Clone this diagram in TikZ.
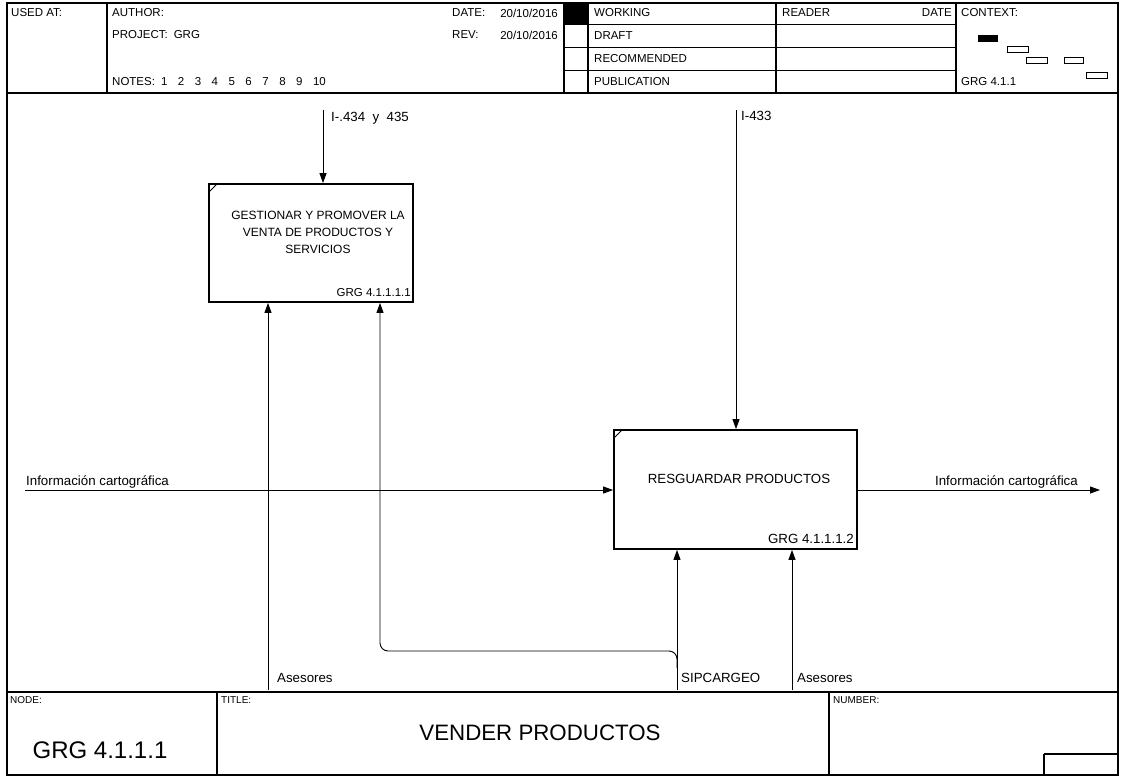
\documentclass[tikz,border=0pt]{standalone}
\usepackage{fontspec}
\setmainfont{Liberation Sans}
\usetikzlibrary{arrows.meta}
\newcommand\ngap{\hspace{10.5pt}}
\begin{document}
\begin{tikzpicture}[x=1pt,y=-1pt,
  txt/.style={inner sep=0pt, font=\fontsize{11.5}{13}\selectfont},
  lbl/.style={inner sep=0pt, font=\fontsize{13.3}{15}\selectfont},
  small/.style={inner sep=0pt, font=\fontsize{10}{12}\selectfont},
  frame/.style={line width=1.3pt},
  thin/.style={line width=0.8pt},
  proc/.style={draw, line width=1.8pt, inner sep=0pt},
  arr/.style={line width=0.9pt, -{Triangle[length=10pt,width=7pt]}},
  ln/.style={line width=0.9pt}]
\useasboundingbox (0,0) rectangle (1124,776);
% outer frame
\draw[frame] (7,3) rectangle (1118,775);
% header
\draw[frame] (7,93) -- (1118,93);
\draw[frame] (107,3) -- (107,93);
\draw[frame] (564,3) -- (564,93);
\fill (564,3) rectangle (588,24);
\draw[frame] (588,3) -- (588,93);
\draw[frame] (776,3) -- (776,93);
\draw[frame] (956,3) -- (956,93);
\foreach \yy in {24,47,70} \draw[thin] (564,\yy) -- (956,\yy);
% context mini diagram
\fill (978,35) rectangle (998,42);
\draw[thin] (1007,46) rectangle (1028,52);
\draw[thin] (1026,57) rectangle (1047,63);
\draw[thin] (1064,57) rectangle (1083,63);
\draw[thin] (1086,72) rectangle (1107,78);
% header texts
\node[txt, anchor=west] (usedat) at (11,13) {USED AT:};
\node[txt, anchor=west] (author) at (112,13) {AUTHOR:};
\node[txt, anchor=west] (project) at (112,35) {PROJECT:\hspace{6pt}GRG};
\node[txt, anchor=west] (notes) at (112,82) {NOTES:\hspace{6pt}1\ngap 2\ngap 3\ngap 4\ngap 5\ngap 6\ngap 7\ngap 8\ngap 9\ngap 10};
\node[txt, anchor=west] (datel) at (452,13) {DATE:};
\node[txt, anchor=east] (datev) at (558,13) {20/10/2016};
\node[txt, anchor=west] (revl) at (452,35) {REV:};
\node[txt, anchor=east] (revv) at (558,35) {20/10/2016};
\node[txt, anchor=west] (working) at (594,13) {WORKING};
\node[txt, anchor=west] (draft) at (594,36) {DRAFT};
\node[txt, anchor=west] (recom) at (594,59) {RECOMMENDED};
\node[txt, anchor=west] (publ) at (594,82) {PUBLICATION};
\node[txt, anchor=west] (reader) at (782,13) {READER};
\node[txt, anchor=east] (rdate) at (952,13) {DATE};
\node[txt, anchor=west] (context) at (961,13) {CONTEXT:};
\node[txt, anchor=west] (ctxnode) at (961,82) {GRG 4.1.1};
% bottom section
\draw[frame] (7,692) -- (1118,692);
\draw[frame] (217,692) -- (217,775);
\draw[frame] (829,692) -- (829,775);
\draw[frame] (1044,754) -- (1118,754);
\draw[frame] (1044,754) -- (1044,775);
\node[small, anchor=west] (nodel) at (10,700) {NODE:};
\node[small, anchor=west] (titlel) at (221,700) {TITLE:};
\node[small, anchor=west] (numl) at (833,700) {NUMBER:};
\node[inner sep=0pt, font=\fontsize{24}{27}\selectfont] (nodev) at (100,750) {GRG 4.1.1.1};
\node[inner sep=0pt, font=\fontsize{22.3}{25}\selectfont] (title) at (540,733) {VENDER PRODUCTOS};
% boxes
\node[proc, minimum width=204pt, minimum height=118pt] (b1) at (311,243) {};
\draw[ln] (209,192) -- (217,184);
\node[inner sep=0pt, align=center, font=\fontsize{12}{17}\selectfont] (b1t) at (318,232) {GESTIONAR Y PROMOVER LA\\VENTA DE PRODUCTOS Y\\SERVICIOS};
\node[inner sep=0pt, font=\fontsize{11.5}{13}\selectfont, anchor=east] (b1n) at (411,293) {GRG 4.1.1.1.1};
\node[proc, minimum width=243pt, minimum height=119pt] (b2) at (735.5,489.5) {};
\draw[ln] (614,438) -- (622,430);
\node[lbl] (b2t) at (739,479) {RESGUARDAR PRODUCTOS};
\node[lbl, anchor=east] (b2n) at (854,539) {GRG 4.1.1.1.2};
% controls
\coordinate (c1) at (323,110);
\draw[arr] (c1) -- (c1 |- b1.north);
\node[lbl, anchor=west] (c1l) at (331,118) {I-.434\ \ y\ \ 435};
\coordinate (c2) at (736,110);
\draw[arr] (c2) -- (c2 |- b2.north);
\node[lbl, anchor=west] (c2l) at (741,116) {I-433};
% input / output
\coordinate (i1) at (25,490);
\draw[arr] (i1) -- (i1 -| b2.west);
\node[lbl, anchor=west] (i1l) at (26,482) {Información cartográfica};
\coordinate (o1) at (1100,490);
\draw[arr] (o1 -| b2.east) -- (o1);
\node[lbl, anchor=east] (o1l) at (1078,482) {Información cartográfica};
% mechanisms
\coordinate (m1) at (268,690);
\draw[arr] (m1) -- (m1 |- b1.south);
\node[lbl, anchor=west] (m1l) at (277,678) {Asesores};
\coordinate (m2) at (677,690);
\draw[arr] (m2) -- (m2 |- b2.south);
\node[lbl, anchor=west] (m2l) at (681,678) {SIPCARGEO};
\coordinate (m3) at (792,690);
\draw[arr] (m3) -- (m3 |- b2.south);
\node[lbl, anchor=west] (m3l) at (797,678) {Asesores};
\coordinate (br) at (677,668);
\coordinate (bk) at (380,651);
\draw[arr, rounded corners=8pt] (br) -- (br |- bk) -- (bk) -- (bk |- b1.south);
\end{tikzpicture}
\end{document}
